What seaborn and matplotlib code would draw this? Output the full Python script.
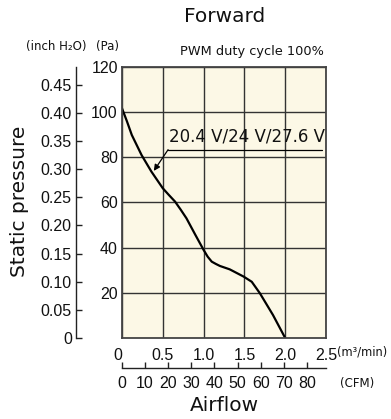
import matplotlib
matplotlib.use("Agg")
import matplotlib.pyplot as plt
import seaborn as sns
import numpy as np
import pandas as pd

# ---- data ----
airflow_m3min = [0.0, 0.06, 0.12, 0.24, 0.36, 0.50, 0.57, 0.65, 0.72, 0.79, 0.90, 1.00, 1.05, 1.10,
                 1.15, 1.20, 1.32, 1.49, 1.59, 1.69, 1.85, 2.00]
pressure_pa = [101.7, 96.0, 89.9, 81.0, 73.7, 66.3, 63.5, 60.4, 56.8, 53.0, 45.6, 39.0, 36.0, 33.8,
               32.8, 31.9, 30.4, 27.2, 24.9, 19.8, 10.2, 0.0]
x_ticks = [0, 0.5, 1.0, 1.5, 2.0, 2.5]
x_ticklabels = ["0", "0.5", "1.0", "1.5", "2.0", "2.5"]
pa_ticks = [20, 40, 60, 80, 100, 120]
inch_ticks = [0, 0.05, 0.10, 0.15, 0.20, 0.25, 0.30, 0.35, 0.40, 0.45]
inch_ticklabels = ["0", "0.05", "0.10", "0.15", "0.20", "0.25", "0.30", "0.35", "0.40", "0.45"]
cfm_ticks = [0, 10, 20, 30, 40, 50, 60, 70, 80]
curve_label = "20.4 V/24 V/27.6 V"

PA_PER_INCH = 249.089
CFM_PER_M3MIN = 35.3147

sns.set_theme(style="white")
plt.rcParams['font.family'] = ['DejaVu Sans']
NARROW = ['Liberation Sans', 'DejaVu Sans']
TICK_FS = 11.5

W, H = 391, 419
fig = plt.figure(figsize=(W / 100, H / 100), dpi=100)
L, R, T, B = 122, 326, 67, 338
ax = fig.add_axes([L / W, 1 - B / H, (R - L) / W, (B - T) / H])
ax.set_facecolor("#FCF8E6")

df = pd.DataFrame({"q": airflow_m3min, "p": pressure_pa})
sns.lineplot(data=df, x="q", y="p", ax=ax, color="black", lw=1.6, sort=False)

ax.set_xlim(0, 2.5)
ax.set_ylim(0, 120)
ax.set_xticks(x_ticks)
ax.set_xticklabels(x_ticklabels)
ax.set_yticks(pa_ticks)
ax.set_yticklabels([str(v) for v in pa_ticks])
for lab in ax.get_xticklabels() + ax.get_yticklabels():
    lab.set_family(NARROW)
    lab.set_fontsize(TICK_FS)
    lab.set_color("#111111")
ax.get_xticklabels()[0].set_horizontalalignment("right")
ax.tick_params(axis="both", length=0)
ax.tick_params(axis="x", pad=7)
ax.tick_params(axis="y", pad=3)
ax.set_xlabel("")
ax.set_ylabel("")
ax.grid(True, color="#333333", lw=1.0)
for s in ax.spines.values():
    s.set_visible(True)
    s.set_color("#444444")
    s.set_linewidth(1.3)

# inch H2O secondary axis
sec_y = ax.secondary_yaxis((76 - L) / (R - L),
                           functions=(lambda p: p / PA_PER_INCH, lambda i: i * PA_PER_INCH))
sec_y.set_yticks(inch_ticks)
sec_y.set_yticklabels(inch_ticklabels)
sec_y.tick_params(axis="y", direction="in", length=4, width=1, color="#222222", pad=3)
for lab in sec_y.get_yticklabels():
    lab.set_family(NARROW)
    lab.set_fontsize(TICK_FS)
    lab.set_color("#111111")
sec_y.spines["left"].set_color("#222222")
sec_y.spines["left"].set_linewidth(1.0)

# CFM secondary axis
sec_x = ax.secondary_xaxis(-(368 - B) / (B - T),
                           functions=(lambda q: q * CFM_PER_M3MIN, lambda c: c / CFM_PER_M3MIN))
sec_x.set_xticks(cfm_ticks)
sec_x.set_xticklabels([str(v) for v in cfm_ticks])
sec_x.tick_params(axis="x", direction="in", length=4, width=1, color="#222222", pad=6)
for lab in sec_x.get_xticklabels():
    lab.set_family(NARROW)
    lab.set_fontsize(TICK_FS)
    lab.set_color("#111111")
sec_x.spines["bottom"].set_color("#222222")
sec_x.spines["bottom"].set_linewidth(1.0)

# annotation with underline and leader arrow
ax.annotate("", xy=(0.39, 74), xytext=(0.565, 83.4),
            arrowprops=dict(arrowstyle="-|>", color="black", lw=0.9,
                            mutation_scale=9, shrinkA=0, shrinkB=0))
ax.plot([0.565, 2.45], [83.4, 83.4], color="black", lw=0.9)
ax.text(0.57, 85.2, curve_label, fontsize=12, color="#111111", ha="left", va="bottom")

# texts
fig.text(225 / W, 1 - 16 / H, "Forward", fontsize=14.5, ha="center", va="center", color="#111111")
fig.text(252 / W, 1 - 52 / H, "PWM duty cycle 100%", fontsize=9.3, ha="center", va="center", color="#111111")
fig.text(56 / W, 1 - 46 / H, "(inch H\u2082O)", fontsize=8.5, ha="center", va="center", color="#111111")
fig.text(108 / W, 1 - 46 / H, "(Pa)", fontsize=8.5, ha="center", va="center", color="#111111")
fig.text(20 / W, 1 - 201 / H, "Static pressure", fontsize=14.5, rotation=90, ha="center", va="center", color="#111111")
fig.text(224 / W, 1 - 405 / H, "Airflow", fontsize=14.5, ha="center", va="center", color="#111111")
fig.text(337 / W, 1 - 352 / H, "(m\u00b3/min)", fontsize=8.3, ha="left", va="center", color="#111111")
fig.text(357 / W, 1 - 383 / H, "(CFM)", fontsize=8.5, ha="center", va="center", color="#111111")

fig.savefig("out.png", dpi=100, facecolor="white")
